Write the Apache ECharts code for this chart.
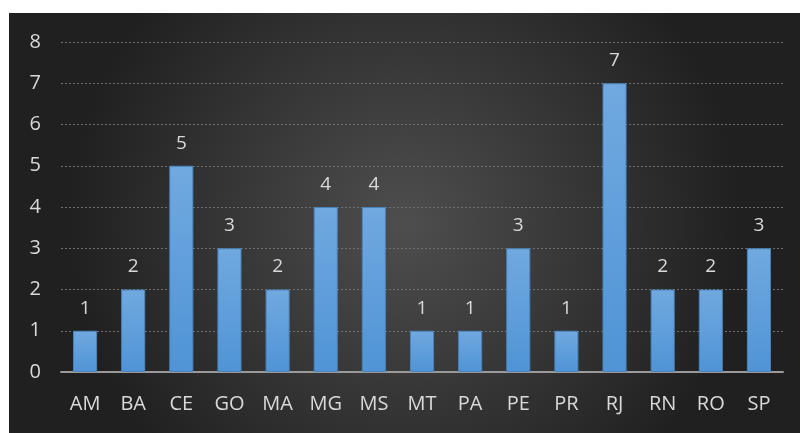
<!DOCTYPE html>
<html lang="en">
<head>
  <meta charset="UTF-8">
  <title>Chart</title>
  <style>
    body { margin: 0; background: #fff; }
    #main { position: absolute; left: 9px; top: 13px; width: 791px; height: 420px; }
  </style>
</head>
<body>
  <div id="main"></div>
  <script src="https://cdn.jsdelivr.net/npm/echarts@6/dist/echarts.min.js"></script>
  <script>
    var states = ['AM', 'BA', 'CE', 'GO', 'MA', 'MG', 'MS', 'MT', 'PA', 'PE', 'PR', 'RJ', 'RN', 'RO', 'SP'];
    var counts = [1, 2, 5, 3, 2, 4, 4, 1, 1, 3, 1, 7, 2, 2, 3];

    var myChart = echarts.init(document.getElementById('main'));
    var textColor = '#d9d9d9';

    var option = {
      backgroundColor: new echarts.graphic.RadialGradient(0.5, 0.5, 0.8, [
        { offset: 0, color: '#4e4e4e' },
        { offset: 1, color: '#202020' }
      ]),
      grid: { left: 52, right: 17, top: 29, bottom: 61 },
      xAxis: {
        type: 'category',
        data: states,
        axisLine: { lineStyle: { color: '#9a9a9a', width: 2 } },
        axisTick: { show: false },
        axisLabel: { color: textColor, fontSize: 20, fontFamily: 'Open Sans', margin: 22 }
      },
      yAxis: {
        type: 'value',
        min: 0,
        max: 8,
        interval: 1,
        axisLine: { show: false },
        axisTick: { show: false },
        axisLabel: { color: textColor, fontSize: 20, fontFamily: 'Open Sans', margin: 20 },
        splitLine: { lineStyle: { color: '#6e6e6e', type: [2, 2], width: 1 } }
      },
      series: [{
        type: 'bar',
        data: counts,
        barWidth: '50%',
        itemStyle: {
          color: new echarts.graphic.LinearGradient(0, 0, 0, 1, [
            { offset: 0, color: '#71a9e0' },
            { offset: 1, color: '#4f94d6' }
          ]),
          borderColor: '#4a84bd',
          borderWidth: 1
        },
        label: {
          show: true,
          position: 'top',
          distance: 13,
          color: textColor,
          fontSize: 19,
          fontFamily: 'Open Sans'
        }
      }]
    };

    myChart.setOption(option);
  </script>
</body>
</html>
